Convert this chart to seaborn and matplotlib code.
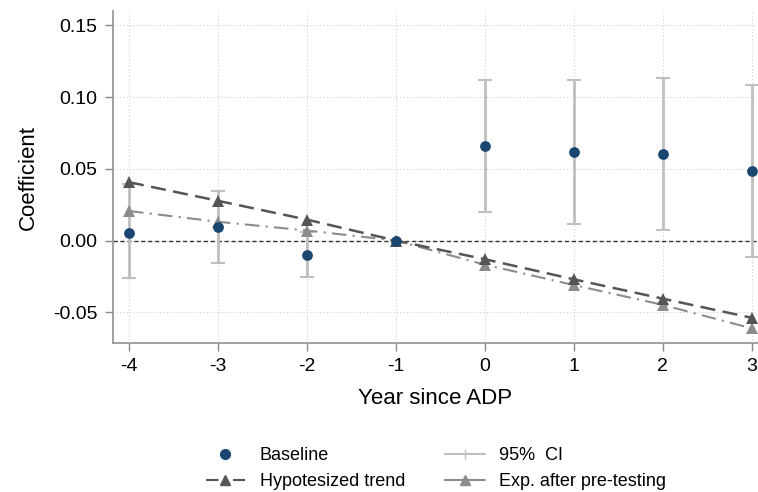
import numpy as np
import pandas as pd
import matplotlib
matplotlib.use('Agg')
import matplotlib.pyplot as plt
import seaborn as sns
from matplotlib.lines import Line2D

sns.set_style('white')
plt.rcParams['font.family'] = ['Liberation Sans', 'DejaVu Sans']
plt.rcParams['text.color'] = 'black'
plt.rcParams['axes.labelcolor'] = 'black'
plt.rcParams['xtick.color'] = 'black'
plt.rcParams['ytick.color'] = 'black'

# Event-study estimates
years = [-4, -3, -2, -1, 0, 1, 2, 3]
baseline = [0.0055, 0.0095, -0.0098, 0.0, 0.066, 0.0615, 0.0602, 0.0484]
ci_low = [-0.0262, -0.0153, -0.0252, np.nan, 0.0198, 0.0115, 0.0072, -0.0115]
ci_high = [0.0392, 0.0342, 0.0058, np.nan, 0.1118, 0.1118, 0.1132, 0.1085]
trend = [0.0407, 0.0277, 0.0146, 0.0, -0.0130, -0.0270, -0.0405, -0.0538]
pretest = [0.0206, 0.0131, 0.0070, 0.0, -0.0168, -0.0310, -0.0448, -0.0612]

df = pd.DataFrame({'year': years, 'baseline': baseline, 'lo': ci_low, 'hi': ci_high,
                   'trend': trend, 'pretest': pretest})

navy = '#1a476f'
ci_col = '#bfbfbf'
trend_col = '#555555'
pre_col = '#8c8c8c'

fig = plt.figure(figsize=(7.58, 4.92), dpi=100)
ax = fig.add_axes([113 / 758, 1 - 343 / 492, (757 - 113) / 758, (343 - 11) / 492])

# grid
for v in [-0.05, 0.0, 0.05, 0.10, 0.15]:
    ax.axhline(v, color='#d0d0d0', linestyle=(0, (1, 2)), linewidth=0.8, zorder=0)
for v in years:
    ax.axvline(v, color='#d0d0d0', linestyle=(0, (1, 2)), linewidth=0.8, zorder=0)
ax.axhline(0, color='#333333', linestyle=(0, (3, 2)), linewidth=1.0, zorder=1)

# confidence intervals
ci = df.dropna()
ax.errorbar(ci['year'], (ci['lo'] + ci['hi']) / 2, yerr=(ci['hi'] - ci['lo']) / 2,
            fmt='none', ecolor=ci_col, elinewidth=2, capsize=5, capthick=1.5, zorder=2)

sns.lineplot(data=df, x='year', y='pretest', ax=ax, color=pre_col, marker='^',
             markersize=9, markeredgewidth=0, linestyle=(0, (7, 3, 1, 3)), linewidth=1.5, zorder=3)
sns.lineplot(data=df, x='year', y='trend', ax=ax, color=trend_col, marker='^',
             markersize=9, markeredgewidth=0, linestyle=(0, (6, 3)), linewidth=1.8, zorder=4)
sns.scatterplot(data=df, x='year', y='baseline', ax=ax, color=navy, s=60, linewidth=0, zorder=5)

ax.set_xlim(-4.18, 3.06)
ax.set_ylim(-0.0714, 0.160)
ax.set_xticks(years)
ax.set_xticklabels([str(y) for y in years])
ax.set_yticks([-0.05, 0.0, 0.05, 0.10, 0.15])
ax.set_yticklabels(['-0.05', '0.00', '0.05', '0.10', '0.15'])
ax.tick_params(axis='both', labelsize=14, length=6, width=1, color='#888888', pad=5,
               left=True, bottom=True)
for s in ['top', 'right']:
    ax.spines[s].set_visible(False)
for s in ['left', 'bottom']:
    ax.spines[s].set_color('#999999')
    ax.spines[s].set_linewidth(1.3)

ax.set_xlabel('Year since ADP', fontsize=16, labelpad=9)
ax.set_ylabel('Coefficient', fontsize=16, labelpad=10)

# legend
handles = [
    Line2D([], [], color=navy, marker='o', linestyle='none', markersize=7),
    Line2D([], [], color=trend_col, marker='^', markersize=7, linestyle=(0, (6, 3, 1, 3)), linewidth=1.5),
    Line2D([], [], color=ci_col, marker='|', markersize=7, linewidth=1.5),
    Line2D([], [], color=pre_col, marker='^', markersize=7, linestyle='-', linewidth=1.5),
]
labels = ['Baseline', 'Hypotesized trend', '95%  CI', 'Exp. after pre-testing']
fig.legend(handles, labels, ncol=2, loc='center', bbox_to_anchor=(0.575, 0.048),
           frameon=False, fontsize=13, handlelength=2.2, columnspacing=2.2,
           handletextpad=0.8, labelspacing=0.5)

fig.savefig('out.png', dpi=100)
